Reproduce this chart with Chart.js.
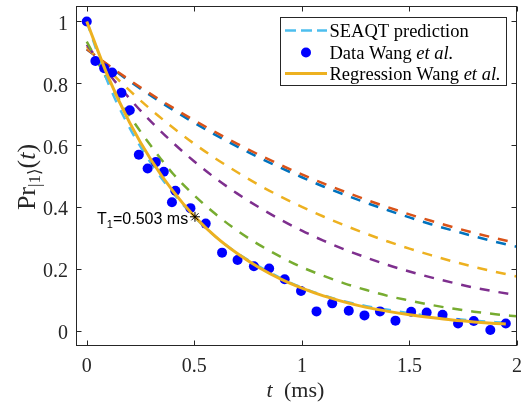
<!DOCTYPE html>
<html lang="en">
<head>
<meta charset="UTF-8">
<title>SEAQT prediction vs Wang et al.</title>
<script src="https://cdn.jsdelivr.net/npm/chart.js"></script>
<style>
    html, body { margin: 0; padding: 0; background: #fff; }
    #wrap { width: 523px; height: 407px; }
</style>
</head>
<body>
<div id="wrap"><canvas id="chart" width="523" height="407"></canvas></div>
<script>
    // time grids (ms)
    const tGrid = [0, 0.1, 0.2, 0.3, 0.4, 0.5, 0.6, 0.7, 0.8, 0.9, 1.0, 1.1, 1.2, 1.3, 1.4, 1.5, 1.6, 1.7, 1.8, 1.9, 2.0];
    const tFit = [0, 0.1, 0.2, 0.3, 0.4, 0.5, 0.6, 0.7, 0.8, 0.9, 1.0, 1.1, 1.2, 1.3, 1.4, 1.5, 1.6, 1.7, 1.8, 1.9, 1.948];

    // dashed model curves on tGrid
    const curveBlue   = [0.910, 0.857, 0.806, 0.759, 0.714, 0.672, 0.632, 0.595, 0.560, 0.527, 0.496, 0.466, 0.439, 0.413, 0.389, 0.366, 0.344, 0.324, 0.305, 0.287, 0.271];
    const curveOrange = [0.910, 0.859, 0.810, 0.764, 0.721, 0.680, 0.641, 0.604, 0.569, 0.536, 0.505, 0.476, 0.449, 0.423, 0.399, 0.376, 0.355, 0.335, 0.316, 0.299, 0.283];
    const curveYellow = [0.918, 0.844, 0.776, 0.714, 0.657, 0.604, 0.556, 0.512, 0.471, 0.434, 0.400, 0.369, 0.340, 0.313, 0.288, 0.265, 0.244, 0.224, 0.206, 0.190, 0.175];
    const curvePurple = [0.925, 0.833, 0.750, 0.675, 0.608, 0.547, 0.492, 0.443, 0.399, 0.359, 0.323, 0.291, 0.262, 0.236, 0.212, 0.191, 0.172, 0.155, 0.139, 0.126, 0.114];
    const curveGreen  = [0.935, 0.806, 0.694, 0.596, 0.508, 0.437, 0.376, 0.323, 0.278, 0.239, 0.205, 0.177, 0.152, 0.131, 0.112, 0.097, 0.083, 0.071, 0.061, 0.053, 0.046];

    // on tFit
    const seaqtPred  = [1.000, 0.800, 0.655, 0.540, 0.446, 0.368, 0.303, 0.250, 0.208, 0.170, 0.139, 0.114, 0.094, 0.079, 0.067, 0.056, 0.047, 0.039, 0.032, 0.027, 0.025];
    const regression = [1.000, 0.820, 0.672, 0.551, 0.452, 0.370, 0.303, 0.249, 0.204, 0.167, 0.137, 0.112, 0.092, 0.075, 0.062, 0.051, 0.042, 0.034, 0.028, 0.023, 0.021];

    // measured data (Wang et al.)
    const dataT = [0.000, 0.040, 0.081, 0.118, 0.161, 0.200, 0.242, 0.283, 0.321, 0.358, 0.396, 0.412, 0.482, 0.553, 0.629, 0.701, 0.777, 0.848, 0.920, 0.996,
                   1.068, 1.141, 1.218, 1.291, 1.363, 1.435, 1.508, 1.580, 1.654, 1.726, 1.799, 1.876, 1.948];
    const dataP = [1.000, 0.872, 0.849, 0.835, 0.769, 0.713, 0.569, 0.524, 0.545, 0.514, 0.415, 0.452, 0.396, 0.346, 0.252, 0.228, 0.208, 0.201, 0.166, 0.128,
                   0.062, 0.088, 0.064, 0.049, 0.062, 0.032, 0.061, 0.058, 0.051, 0.023, 0.031, 0.002, 0.023];

    // T1 marker
    const t1Time = [0.503];
    const t1Value = [0.368];

    const xTicks = [0, 0.5, 1, 1.5, 2];
    const xTickLabels = ['0', '0.5', '1', '1.5', '2'];
    const yTicks = [0, 0.2, 0.4, 0.6, 0.8, 1];
    const yTickLabels = ['0', '0.2', '0.4', '0.6', '0.8', '1'];

    const serif = "'Liberation Serif', 'Times New Roman', 'DejaVu Serif', serif";
    const sans = "'Liberation Sans', Arial, sans-serif";
    const axisColor = '#262626';

    const pts = (xs, ys) => xs.map((v, i) => ({ x: v, y: ys[i] }));

    function dashed(data, color, order) {
        return {
            data: data, borderColor: color, borderWidth: 2.5, borderDash: [10, 9],
            pointRadius: 0, fill: false, cubicInterpolationMode: 'monotone', order: order
        };
    }

    // frame, inward ticks, labels, legend and annotation in MATLAB style
    const axesPlugin = {
        id: 'matlabAxes',
        afterDraw(chart) {
            const { ctx, chartArea: a, scales: { x, y } } = chart;
            ctx.save();

            const x0 = a.left + 0.5, x1 = a.right - 0.5, y0 = a.top + 0.5, y1 = a.bottom - 0.5;
            ctx.strokeStyle = axisColor;
            ctx.lineWidth = 1;
            ctx.setLineDash([]);
            ctx.strokeRect(x0, y0, x1 - x0, y1 - y0);

            ctx.beginPath();
            xTicks.forEach(v => {
                const px = Math.round(x.getPixelForValue(v)) + 0.5;
                ctx.moveTo(px, y1); ctx.lineTo(px, y1 - 5);
                ctx.moveTo(px, y0); ctx.lineTo(px, y0 + 5);
            });
            yTicks.forEach(v => {
                const py = Math.round(y.getPixelForValue(v)) + 0.5;
                ctx.moveTo(x0, py); ctx.lineTo(x0 + 5, py);
                ctx.moveTo(x1, py); ctx.lineTo(x1 - 5, py);
            });
            ctx.stroke();

            // tick labels
            ctx.fillStyle = axisColor;
            ctx.font = '20px ' + serif;
            ctx.textBaseline = 'alphabetic';
            ctx.textAlign = 'center';
            xTicks.forEach((v, i) => ctx.fillText(xTickLabels[i], x.getPixelForValue(v), a.bottom + 26));
            ctx.textAlign = 'right';
            yTicks.forEach((v, i) => ctx.fillText(yTickLabels[i], a.left - 8, y.getPixelForValue(v) + 8.5));

            // x title: t (ms)
            const cx = (a.left + a.right) / 2;
            ctx.textAlign = 'left';
            ctx.font = 'italic 22px ' + serif;
            ctx.fillText('t', cx - 30, 397);
            ctx.font = '22px ' + serif;
            ctx.fillText('(ms)', cx - 12.5, 397);

            // y title: Pr_{|1>}(t)
            ctx.save();
            ctx.translate(35, 177);
            ctx.rotate(-Math.PI / 2);
            const parts = [
                { s: 'Pr', f: '26px ' + serif, dy: 0 },
                { s: '|1\u27E9', f: '17px ' + serif, dy: 5 },
                { s: '(', f: '26px ' + serif, dy: 0 },
                { s: 't', f: 'italic 26px ' + serif, dy: 0 },
                { s: ')', f: '26px ' + serif, dy: 0 }
            ];
            let total = 0;
            parts.forEach(p => { ctx.font = p.f; p.w = ctx.measureText(p.s).width; total += p.w; });
            let px = -total / 2;
            parts.forEach(p => { ctx.font = p.f; ctx.fillText(p.s, px, p.dy); px += p.w; });
            ctx.restore();

            // T1 annotation
            ctx.fillStyle = '#000';
            const ax = x.getPixelForValue(0.048), ay = y.getPixelForValue(0.344);
            ctx.font = '16px ' + sans;
            ctx.fillText('T', ax, ay);
            let w = ctx.measureText('T').width;
            ctx.font = '11px ' + sans;
            ctx.fillText('1', ax + w, ay + 4);
            w += ctx.measureText('1').width;
            ctx.font = '16px ' + sans;
            ctx.fillText('=0.503 ms', ax + w, ay);

            // legend box
            const lx = a.right - 236.5, ly = a.top + 11.5, lw = 226, lh = 68;
            ctx.fillStyle = '#fff';
            ctx.fillRect(lx, ly, lw, lh);
            ctx.strokeStyle = axisColor;
            ctx.lineWidth = 1;
            ctx.strokeRect(lx, ly, lw, lh);

            const rows = [ly + 19.5, ly + 41, ly + 62.5];
            const sx0 = lx + 4.5, sx1 = lx + 46.5, tx = lx + 49;

            ctx.strokeStyle = '#4DBEEE';
            ctx.lineWidth = 2.5;
            ctx.setLineDash([11, 5]);
            ctx.beginPath(); ctx.moveTo(sx0, rows[0] - 6.5); ctx.lineTo(sx1, rows[0] - 6.5); ctx.stroke();
            ctx.setLineDash([]);

            ctx.fillStyle = '#0000FF';
            ctx.beginPath(); ctx.arc((sx0 + sx1) / 2, rows[1] - 6, 5, 0, Math.PI * 2); ctx.fill();

            ctx.strokeStyle = '#EDB120';
            ctx.lineWidth = 3;
            ctx.beginPath(); ctx.moveTo(sx0, rows[2] - 6.5); ctx.lineTo(sx1, rows[2] - 6.5); ctx.stroke();

            ctx.fillStyle = '#000';
            const legendText = [
                [['SEAQT prediction', '']],
                [['Data Wang ', ''], ['et al.', 'italic ']],
                [['Regression Wang ', ''], ['et al.', 'italic ']]
            ];
            legendText.forEach((row, r) => {
                let xx = tx;
                row.forEach(([s, style]) => {
                    ctx.font = style + '18.5px ' + serif;
                    ctx.fillText(s, xx, rows[r]);
                    xx += ctx.measureText(s).width;
                });
            });

            ctx.restore();
        }
    };

    new Chart(document.getElementById('chart'), {
        type: 'line',
        data: {
            datasets: [
                dashed(pts(tGrid, curveBlue), '#0072BD', 8),
                dashed(pts(tGrid, curveOrange), '#D95319', 7),
                dashed(pts(tGrid, curveYellow), '#EDB120', 6),
                dashed(pts(tGrid, curvePurple), '#7E2F8E', 5),
                dashed(pts(tGrid, curveGreen), '#77AC30', 4),
                dashed(pts(tFit, seaqtPred), '#4DBEEE', 3),
                {
                    data: pts(dataT, dataP), showLine: false,
                    pointRadius: 5, pointBackgroundColor: '#0000FF', pointBorderWidth: 0, order: 2
                },
                {
                    data: pts(tFit, regression), borderColor: '#EDB120', borderWidth: 3,
                    pointRadius: 0, fill: false, cubicInterpolationMode: 'monotone', order: 1
                },
                {
                    data: pts(t1Time, t1Value), showLine: false, pointStyle: 'star',
                    pointRadius: 5, pointBorderColor: '#000', pointBorderWidth: 1, order: 0
                }
            ]
        },
        options: {
            responsive: false,
            animation: false,
            devicePixelRatio: 1,
            layout: { padding: { top: 5, right: 1, left: 0, bottom: 0 } },
            plugins: { legend: { display: false }, tooltip: { enabled: false } },
            scales: {
                x: {
                    type: 'linear', min: -0.05, max: 2,
                    ticks: { display: false }, grid: { display: false }, border: { display: false },
                    afterFit: s => { s.height = 61; }
                },
                y: {
                    type: 'linear', min: -0.05, max: 1.05,
                    ticks: { display: false }, grid: { display: false }, border: { display: false },
                    afterFit: s => { s.width = 76; }
                }
            }
        },
        plugins: [axesPlugin]
    });
</script>
</body>
</html>
